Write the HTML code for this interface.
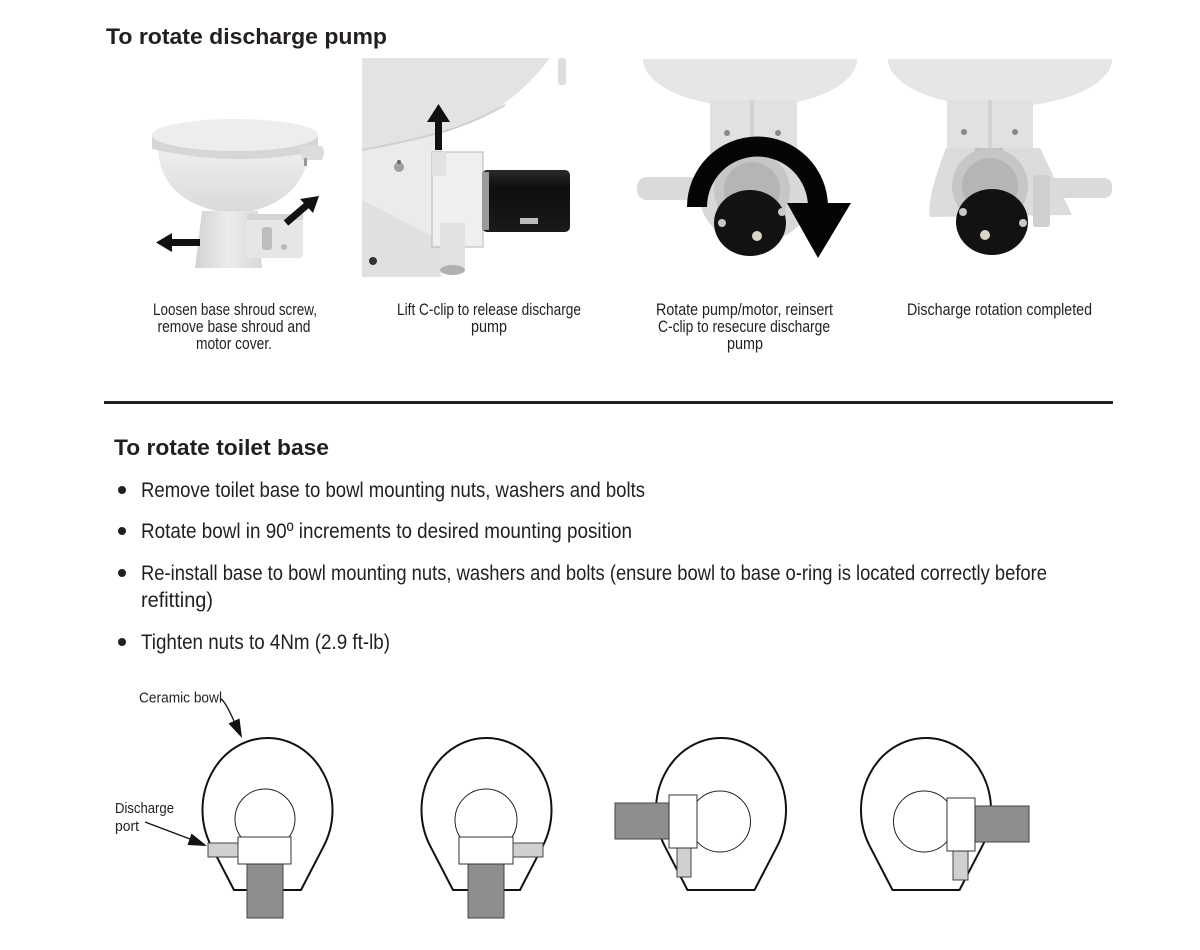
<!DOCTYPE html>
<html>
<head>
<meta charset="utf-8">
<style>
  html, body { margin: 0; padding: 0; background: #ffffff; }
  body { width: 1200px; height: 950px; overflow: hidden; }
  svg { display: block; }
  .t { font-family: "Liberation Sans", sans-serif; fill: #231f20; }
  .title { font-weight: bold; font-size: 22px; }
  .cap { font-size: 16.5px; }
  .bul { font-size: 21.5px; }
  .lbl { font-size: 15px; }
</style>
</head>
<body>
<svg width="1200" height="950" viewBox="0 0 1200 950" xmlns="http://www.w3.org/2000/svg">
  <defs>
    <linearGradient id="gBase" x1="0" y1="0" x2="1" y2="0">
      <stop offset="0" stop-color="#d2d2d2"/>
      <stop offset="0.5" stop-color="#ececec"/>
      <stop offset="1" stop-color="#d8d8d8"/>
    </linearGradient>
    <linearGradient id="gBowl" x1="0" y1="0" x2="0" y2="1">
      <stop offset="0" stop-color="#eeeeee"/>
      <stop offset="1" stop-color="#d9d9d9"/>
    </linearGradient>
    <linearGradient id="gMotor" x1="0" y1="0" x2="0" y2="1">
      <stop offset="0" stop-color="#2a2a2a"/>
      <stop offset="0.3" stop-color="#0e0e0e"/>
      <stop offset="1" stop-color="#1a1a1a"/>
    </linearGradient>
  </defs>

  <!-- ===== Title 1 ===== -->
  <text class="t title" x="106" y="44" textLength="281" lengthAdjust="spacingAndGlyphs">To rotate discharge pump</text>

  <!-- ===== Photo 1: toilet ===== -->
  <g>
    <!-- bowl -->
    <path d="M158 150 Q162 206 235 214 Q302 206 310 150 Z" fill="url(#gBowl)"/>
    <!-- lid side band -->
    <path d="M152 135 L152 149 Q235 168 318 151 L318 135 Z" fill="#d6d6d6"/>
    <!-- lid top -->
    <ellipse cx="235" cy="135" rx="83" ry="16" fill="#ededed"/>
    <!-- hinge -->
    <path d="M300 146 L322 146 Q326 152 322 160 L302 160 Z" fill="#dcdcdc"/>
    <rect x="304" y="158" width="3" height="8" fill="#999"/>
    <!-- pedestal -->
    <path d="M202 211 L258 211 L262 268 L195 268 Z" fill="url(#gBase)"/>
    <!-- shroud box -->
    <rect x="247" y="214" width="56" height="44" rx="4" fill="#e6e6e6"/>
    <rect x="247" y="214" width="56" height="6" fill="#d4d4d4"/>
    <!-- knob -->
    <rect x="262" y="227" width="10" height="23" rx="3" fill="#bdbdbd"/>
    <circle cx="284" cy="247" r="3" fill="#bbb"/>
    <!-- arrow left -->
    <rect x="168" y="239" width="32" height="7" fill="#111"/>
    <polygon points="156,242.5 172,233 172,252" fill="#111"/>
    <!-- arrow up-right -->
    <line x1="286" y1="223" x2="307" y2="205" stroke="#111" stroke-width="7"/>
    <polygon points="319,196 300,199 313,213" fill="#111"/>
  </g>

  <!-- ===== Photo 2: pump side ===== -->
  <g>
    <!-- base / pedestal area -->
    <rect x="362" y="120" width="80" height="157" fill="#ebebeb"/>
    <path d="M362 200 L362 277 L440 277 L440 240 Z" fill="#e0e0e0"/>
    <!-- bowl -->
    <path d="M362 58 L550 58 Q505 118 435 134 Q398 143 362 150 Z" fill="#e3e3e3"/>
    <path d="M362 150 Q400 143 435 134 Q470 125 505 105" fill="none" stroke="#d0d0d0" stroke-width="2"/>
    <!-- tab -->
    <rect x="558" y="58" width="8" height="27" rx="3" fill="#dedede"/>
    <!-- nut -->
    <circle cx="399" cy="167" r="5" fill="#a0a0a0"/>
    <circle cx="399" cy="162" r="2" fill="#666"/>
    <!-- pump housing -->
    <rect x="432" y="152" width="51" height="95" fill="#efefef" stroke="#b5b5b5" stroke-width="1"/>
    <rect x="432" y="152" width="14" height="24" fill="#e2e2e2"/>
    <!-- motor -->
    <rect x="482" y="170" width="88" height="62" rx="5" fill="url(#gMotor)"/>
    <rect x="482" y="172" width="7" height="58" fill="#9a9a9a"/>
    <rect x="520" y="218" width="18" height="6" fill="#bbb"/>
    <!-- discharge pipe -->
    <rect x="440" y="223" width="25" height="47" fill="#e2e2e2"/>
    <ellipse cx="452.5" cy="270" rx="12.5" ry="5" fill="#b0b0b0"/>
    <!-- bolt -->
    <circle cx="373" cy="261" r="4" fill="#333"/>
    <!-- arrow up -->
    <rect x="435" y="120" width="7" height="30" fill="#111"/>
    <polygon points="427,122 450,122 438.5,104" fill="#111"/>
  </g>

  <!-- ===== Photo 3: rotate pump ===== -->
  <g>
    <path d="M643 59 A107 48 0 0 0 857 59 Z" fill="#e6e6e6"/>
    <rect x="710" y="100" width="87" height="60" fill="#e1e1e1"/>
    <rect x="750" y="100" width="4" height="50" fill="#d2d2d2"/>
    <circle cx="727" cy="133" r="3" fill="#888"/>
    <circle cx="778" cy="133" r="3" fill="#888"/>
    <ellipse cx="755" cy="198" rx="55" ry="45" fill="#d8d8d8"/>
    <rect x="637" y="177" width="63" height="23" rx="10" fill="#dadada"/>
    <circle cx="752" cy="190" r="38" fill="#c6c6c6"/>
    <circle cx="752" cy="190" r="28" fill="#b5b5b5"/>
    <ellipse cx="750" cy="223" rx="36" ry="33" fill="#121212"/>
    <circle cx="722" cy="223" r="4" fill="#c8c8c8"/>
    <circle cx="782" cy="212" r="4" fill="#c8c8c8"/>
    <circle cx="757" cy="236" r="5" fill="#d8d4c8"/>
    <!-- rotation arrow -->
    <path d="M687 207 A70.5 70.5 0 0 1 828 207 L808 207 A50.5 50.5 0 0 0 707 207 Z" fill="#050505"/>
    <polygon points="787,203 851,203 818,258" fill="#050505"/>
  </g>

  <!-- ===== Photo 4: rotation completed ===== -->
  <g>
    <path d="M888 59 A112 48 0 0 0 1112 59 Z" fill="#e6e6e6"/>
    <rect x="947" y="100" width="86" height="55" fill="#e1e1e1"/>
    <rect x="988" y="100" width="4" height="50" fill="#d2d2d2"/>
    <circle cx="964" cy="132" r="3" fill="#888"/>
    <circle cx="1015" cy="132" r="3" fill="#888"/>
    <path d="M946 148 L1040 148 L1072 215 L930 217 Q926 200 946 148 Z" fill="#dcdcdc"/>
    <rect x="975" y="148" width="28" height="6" fill="#bdbdbd"/>
    <rect x="1040" y="178" width="72" height="20" rx="8" fill="#dadada"/>
    <rect x="1033" y="175" width="17" height="52" rx="3" fill="#cfcfcf"/>
    <circle cx="990" cy="186" r="38" fill="#c6c6c6"/>
    <circle cx="990" cy="186" r="28" fill="#b5b5b5"/>
    <ellipse cx="992" cy="222" rx="36" ry="33" fill="#121212"/>
    <circle cx="963" cy="212" r="4" fill="#c8c8c8"/>
    <circle cx="1023" cy="223" r="4" fill="#c8c8c8"/>
    <circle cx="985" cy="235" r="5" fill="#d8d4c8"/>
  </g>

  <!-- ===== Captions ===== -->
  <g class="t cap" text-anchor="middle">
    <text x="235" y="315" textLength="164" lengthAdjust="spacingAndGlyphs">Loosen base shroud screw,</text>
    <text x="234" y="332" textLength="153" lengthAdjust="spacingAndGlyphs">remove base shroud and</text>
    <text x="234" y="349" textLength="76" lengthAdjust="spacingAndGlyphs">motor cover.</text>

    <text x="489" y="315" textLength="184" lengthAdjust="spacingAndGlyphs">Lift C-clip to release discharge</text>
    <text x="489" y="332" textLength="36" lengthAdjust="spacingAndGlyphs">pump</text>

    <text x="744.5" y="315" textLength="177" lengthAdjust="spacingAndGlyphs">Rotate pump/motor, reinsert</text>
    <text x="744" y="332" textLength="172" lengthAdjust="spacingAndGlyphs">C-clip to resecure discharge</text>
    <text x="745" y="349" textLength="36" lengthAdjust="spacingAndGlyphs">pump</text>

    <text x="999.5" y="315" textLength="185" lengthAdjust="spacingAndGlyphs">Discharge rotation completed</text>
  </g>

  <!-- ===== Divider ===== -->
  <rect x="104" y="401" width="1009" height="3" fill="#231f20"/>

  <!-- ===== Title 2 ===== -->
  <text class="t title" x="114" y="455" textLength="215" lengthAdjust="spacingAndGlyphs">To rotate toilet base</text>

  <!-- ===== Bullets ===== -->
  <g fill="#231f20">
    <circle cx="122" cy="490" r="4"/>
    <circle cx="122" cy="531" r="4"/>
    <circle cx="122" cy="573" r="4"/>
    <circle cx="122" cy="642" r="4"/>
  </g>
  <g class="t bul">
    <text x="141" y="497" textLength="504" lengthAdjust="spacingAndGlyphs">Remove toilet base to bowl mounting nuts, washers and bolts</text>
    <text x="141" y="538" textLength="491" lengthAdjust="spacingAndGlyphs">Rotate bowl in 90º increments to desired mounting position</text>
    <text x="141" y="580" textLength="906" lengthAdjust="spacingAndGlyphs">Re-install base to bowl mounting nuts, washers and bolts (ensure bowl to base o-ring is located correctly before</text>
    <text x="141" y="607" textLength="72" lengthAdjust="spacingAndGlyphs">refitting)</text>
    <text x="141" y="649" textLength="249" lengthAdjust="spacingAndGlyphs">Tighten nuts to 4Nm (2.9 ft-lb)</text>
  </g>

  <!-- ===== Diagram labels ===== -->
  <g class="t lbl">
    <text x="139" y="702.5" textLength="83" lengthAdjust="spacingAndGlyphs">Ceramic bowl</text>
    <text x="115" y="813" textLength="59" lengthAdjust="spacingAndGlyphs">Discharge</text>
    <text x="115" y="831" textLength="24" lengthAdjust="spacingAndGlyphs">port</text>
  </g>
  <!-- label arrows -->
  <g stroke="#111" stroke-width="1.3" fill="none">
    <path d="M221 699 Q225 701 234 721"/>
    <line x1="145" y1="822" x2="190" y2="839"/>
  </g>
  <polygon points="242,738 228.5,723.5 239.5,718.5" fill="#111"/>
  <polygon points="207,846 187.5,845 191.5,833.5" fill="#111"/>

  <!-- ===== Diagram 1 ===== -->
  <g>
    <path d="M234 890 L211.1 845.8 A65 72 0 1 1 323.9 845.8 L301 890 Z" fill="#fff" stroke="#111" stroke-width="2" stroke-linejoin="miter"/>
    <circle cx="265" cy="819" r="30" fill="#fff" stroke="#222" stroke-width="1"/>
    <rect x="247" y="864" width="36" height="54" fill="#8e8e90" stroke="#444" stroke-width="1"/>
    <rect x="238" y="837" width="53" height="27" fill="#fff" stroke="#333" stroke-width="1"/>
    <rect x="208" y="843" width="30" height="14" fill="#d0d0d2" stroke="#444" stroke-width="1"/>
  </g>

  <!-- ===== Diagram 2 ===== -->
  <g>
    <path d="M453 890 L430.1 845.8 A65 72 0 1 1 542.9 845.8 L520 890 Z" fill="#fff" stroke="#111" stroke-width="2"/>
    <circle cx="486" cy="820" r="31" fill="#fff" stroke="#222" stroke-width="1"/>
    <rect x="468" y="864" width="36" height="54" fill="#8e8e90" stroke="#444" stroke-width="1"/>
    <rect x="459" y="837" width="54" height="27" fill="#fff" stroke="#333" stroke-width="1"/>
    <rect x="513" y="843" width="30" height="14" fill="#d0d0d2" stroke="#444" stroke-width="1"/>
  </g>

  <!-- ===== Diagram 3 ===== -->
  <g>
    <path d="M687.5 890 L664.6 845.8 A65 72 0 1 1 777.4 845.8 L754.5 890 Z" fill="#fff" stroke="#111" stroke-width="2"/>
    <circle cx="720" cy="821.5" r="30.5" fill="#fff" stroke="#222" stroke-width="1"/>
    <rect x="615" y="803" width="54" height="36" fill="#8e8e90" stroke="#444" stroke-width="1"/>
    <rect x="677" y="848" width="14" height="29" fill="#d0d0d2" stroke="#444" stroke-width="1"/>
    <rect x="669" y="795" width="28" height="53" fill="#fff" stroke="#333" stroke-width="1"/>
  </g>

  <!-- ===== Diagram 4 ===== -->
  <g>
    <path d="M892.5 890 L869.6 845.8 A65 72 0 1 1 982.4 845.8 L959.5 890 Z" fill="#fff" stroke="#111" stroke-width="2"/>
    <circle cx="924" cy="821.5" r="30.5" fill="#fff" stroke="#222" stroke-width="1"/>
    <rect x="975" y="806" width="54" height="36" fill="#8e8e90" stroke="#444" stroke-width="1"/>
    <rect x="953" y="851" width="15" height="29" fill="#d0d0d2" stroke="#444" stroke-width="1"/>
    <rect x="947" y="798" width="28" height="53" fill="#fff" stroke="#333" stroke-width="1"/>
  </g>
</svg>
</body>
</html>
